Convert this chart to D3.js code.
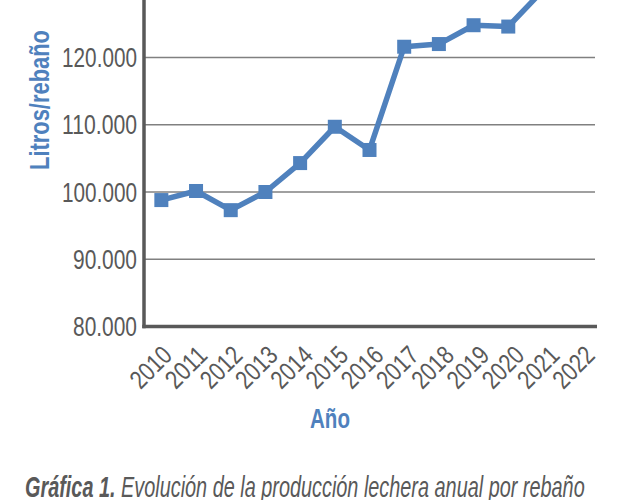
<!DOCTYPE html>
<html>
<head>
<meta charset="utf-8">
<script src="https://cdn.jsdelivr.net/npm/d3@7"></script>
<style>
  html, body { margin: 0; padding: 0; background: #fff; }
  svg { display: block; }
  text { font-family: "Liberation Sans Narrow", "Liberation Sans", sans-serif; }
</style>
</head>
<body>
<script>
const years = ["2010","2011","2012","2013","2014","2015","2016","2017","2018","2019","2020","2021","2022"];
const litros = [98800, 100150, 97300, 100000, 104300, 109700, 106250, 121600, 122000, 124800, 124600, 130000, 132000];
const yTicks = [80000, 90000, 100000, 110000, 120000, 130000, 140000];
const yTitle = "Litros/rebaño";
const xTitle = "Año";
const captionBold = "Gráfica 1.";
const captionRest = " Evolución de la producción lechera anual por rebaño";

const W = 627, H = 500;
const blue = "#4f81bd", dark = "#595959", grid = "#808080";

const svg = d3.select("body").append("svg").attr("width", W).attr("height", H);

const x = d3.scaleBand().domain(years).range([144, 595]).padding(0);
const xLab = d3.scaleBand().domain(years).range([144, 602]).padding(0);
const y = d3.scaleLinear().domain([80000, 140000]).range([326.5, 326.5 - 60 * 6.725]);
const cx = d => x(d) + x.bandwidth() / 2;

// condensed look: squeeze a text horizontally along its baseline
function squeeze(node, targetW) {
  const w = node.getComputedTextLength();
  return targetW / w;
}

// gridlines
svg.append("g").selectAll("line").data(yTicks.filter(t => t > 80000)).join("line")
  .attr("x1", 144).attr("x2", 595)
  .attr("y1", d => y(d)).attr("y2", d => y(d))
  .attr("stroke", grid).attr("stroke-width", 1.5);

// y tick labels (only those inside the visible area)
const fmt = v => d3.format(",")(v).replace(/,/g, ".");
svg.append("g").selectAll("text").data(yTicks.filter(t => y(t) > 15)).join("text")
  .attr("x", 0).attr("y", 0).attr("dy", "0.36em")
  .attr("text-anchor", "end").attr("fill", dark).attr("font-size", 27)
  .text(fmt)
  .each(function (d) {
    const s = squeeze(this, fmt(d).length === 7 ? 75 : 64);
    d3.select(this).attr("transform", `translate(137,${y(d)}) scale(${s},1)`);
  });

// axes lines
svg.append("line").attr("x1", 144).attr("x2", 144).attr("y1", y(140000)).attr("y2", y(80000) + 1.75)
  .attr("stroke", dark).attr("stroke-width", 3.5);
svg.append("line").attr("x1", 142.25).attr("x2", 597).attr("y1", y(80000)).attr("y2", y(80000))
  .attr("stroke", dark).attr("stroke-width", 3.5);

// x tick labels
svg.append("g").selectAll("text").data(years).join("text")
  .attr("text-anchor", "end").attr("fill", dark).attr("font-size", 26)
  .text(d => d)
  .each(function (d) {
    const s = squeeze(this, 47);
    const ex = xLab(d) + xLab.bandwidth() / 2 + 12;
    d3.select(this).attr("transform", `translate(${ex},357) rotate(-45) scale(${s},1)`);
  });

// line
const line = d3.line().x((d, i) => cx(years[i])).y(d => y(d));
svg.append("path").datum(litros).attr("d", line)
  .attr("fill", "none").attr("stroke", blue).attr("stroke-width", 5.5).attr("stroke-linejoin", "round");

// markers
const ms = 14;
svg.append("g").selectAll("rect").data(litros).join("rect")
  .attr("x", (d, i) => cx(years[i]) - ms / 2).attr("y", d => y(d) - ms / 2)
  .attr("width", ms).attr("height", ms).attr("fill", blue);

// axis titles
svg.append("text").attr("text-anchor", "middle")
  .attr("fill", blue).attr("font-weight", "bold").attr("font-size", 28).text(xTitle)
  .each(function () {
    const s = squeeze(this, 40);
    d3.select(this).attr("transform", `translate(330,428) scale(${s},1)`);
  });
svg.append("text").attr("text-anchor", "middle")
  .attr("fill", blue).attr("font-weight", "bold").attr("font-size", 28).text(yTitle)
  .each(function () {
    const s = squeeze(this, 140);
    d3.select(this).attr("transform", `translate(49,100) rotate(-90) scale(${s},1)`);
  });

// caption
const cap = svg.append("text").attr("x", 0).attr("y", 0).attr("fill", dark)
  .attr("font-size", 29).attr("font-style", "italic");
cap.append("tspan").attr("font-weight", "bold").text(captionBold);
cap.append("tspan").text(captionRest);
const cw = cap.node().getComputedTextLength();
cap.attr("transform", `translate(25,497) scale(${560 / cw},1)`);
</script>
</body>
</html>
